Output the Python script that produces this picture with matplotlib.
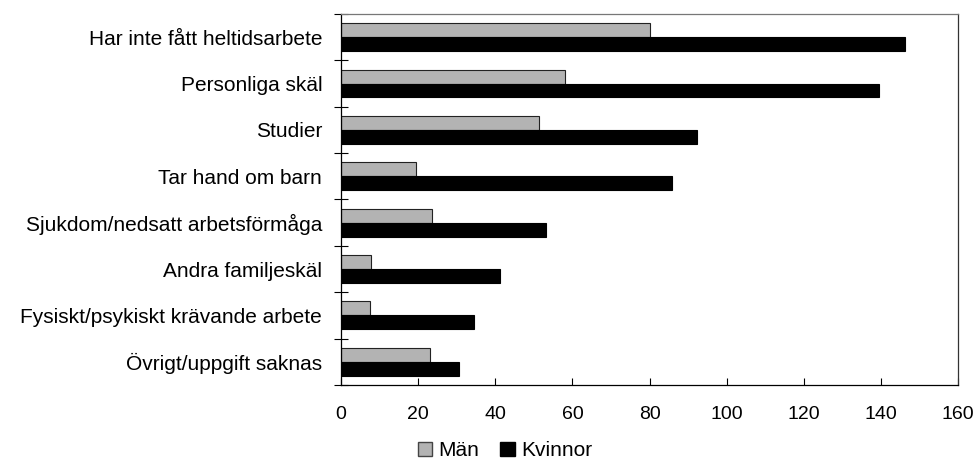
import matplotlib
matplotlib.use("Agg")
import matplotlib.pyplot as plt
import numpy as np
from matplotlib.patches import Patch

categories = ["Har inte fått heltidsarbete", "Personliga skäl", "Studier", "Tar hand om barn",
              "Sjukdom/nedsatt arbetsförmåga", "Andra familjeskäl",
              "Fysiskt/psykiskt krävande arbete", "Övrigt/uppgift saknas"]
man = [80.0, 58.2, 51.4, 19.4, 23.5, 7.7, 7.4, 23.0]
kvinnor = [146.2, 139.4, 92.2, 85.8, 53.2, 41.3, 34.5, 30.6]
xticks = [0, 20, 40, 60, 80, 100, 120, 140, 160]

plt.rcParams['font.family'] = ['Liberation Sans', 'DejaVu Sans']

fig = plt.figure(figsize=(9.77, 4.61), dpi=100)
ax = fig.add_axes([0.349, 0.165, 0.6316, 0.8046])

n = len(categories)
y = np.arange(n)
h = 0.3
ax.barh(y - h/2, man, height=h, color='#b3b3b3', edgecolor='#222222', linewidth=0.8)
ax.barh(y + h/2, kvinnor, height=h, color='#000000', edgecolor='#000000', linewidth=0.8)

ax.set_ylim(n - 0.5, -0.5)
ax.set_xlim(0, 160)
ax.set_xticks(xticks)
ax.set_xticklabels([str(v) for v in xticks], fontsize=14)
ax.tick_params(axis='x', direction='in', length=5, width=0.8, pad=15)

ax.set_yticks(y)
ax.set_yticklabels(categories, fontsize=15)
ax.tick_params(axis='y', which='major', length=0, pad=13.5)
ax.set_yticks(np.arange(n + 1) - 0.5, minor=True)
ax.tick_params(axis='y', which='minor', direction='inout', length=10, width=0.8)

for s in ['left', 'bottom']:
    ax.spines[s].set_color('#000000')
    ax.spines[s].set_linewidth(0.9)
ax.spines['top'].set_color('#777777')
ax.spines['right'].set_color('#333333')
ax.spines['top'].set_linewidth(0.9)
ax.spines['right'].set_linewidth(0.9)

handles = [Patch(facecolor='#b3b3b3', edgecolor='#444444', label='Män'),
           Patch(facecolor='#000000', edgecolor='#000000', label='Kvinnor')]
fig.legend(handles=handles, loc='center', bbox_to_anchor=(0.517, 0.022), ncol=2, frameon=False,
           fontsize=15, handlelength=0.7, handleheight=0.7, handletextpad=0.3, columnspacing=1.0,
           borderpad=0)

fig.savefig("out.png", dpi=100)
